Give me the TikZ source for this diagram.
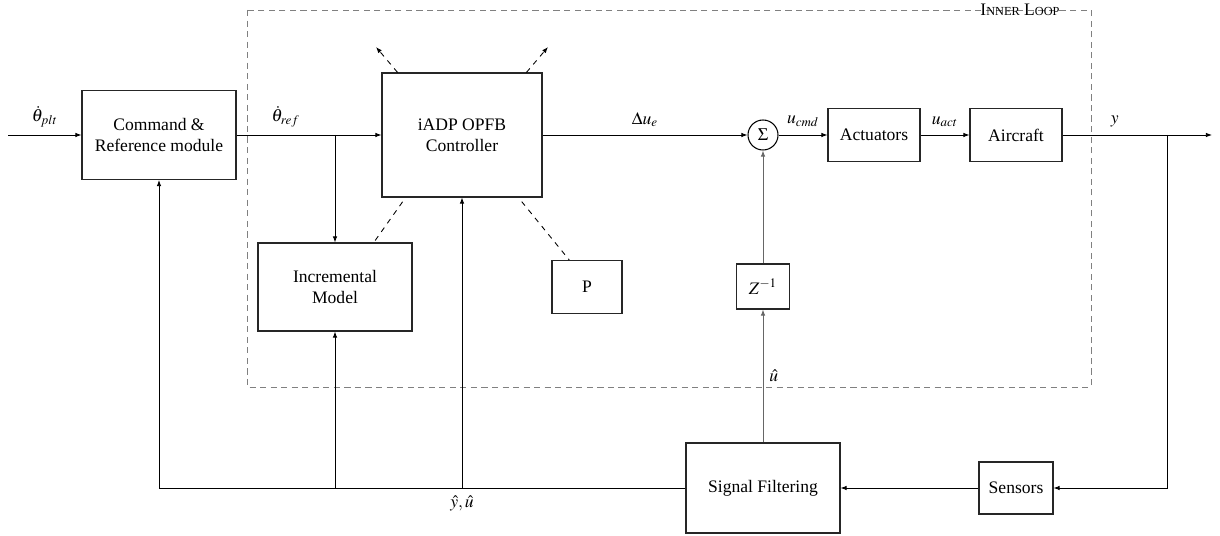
\documentclass[tikz,border=0pt]{standalone}
\usepackage{mathptmx}
\usepackage{fontspec}
\setmainfont{Liberation Serif}
\usetikzlibrary{calc, arrows.meta, positioning}

\begin{document}
\begin{tikzpicture}[x=0.02cm, y=-0.02cm,
    block/.style={draw=black!85, line width=0.6pt, align=center, inner sep=2pt},
    sig/.style={-{Latex[length=3.5pt,width=2.6pt]}, line width=0.5pt},
    lbl/.style={above=1pt}]
    \useasboundingbox (0,0) rectangle (1220,536);
    % Inner loop boundary
    \draw[black!50, line width=0.5pt, dash pattern=on 3.5pt off 2.5pt] (247,10) rectangle (1091,387);
    \node (loop) at (1020,10) {I{\scriptsize NNER} L{\scriptsize OOP}};
    % Blocks
    \node[block, minimum width=3.08cm, minimum height=1.78cm] (cmd) at (159,135) {Command \&\\Reference module};
    \node[block, minimum width=3.2cm, minimum height=2.48cm] (ctrl) at (462,135) {iADP OPFB\\Controller};
    \node[block, minimum width=3.08cm, minimum height=1.76cm] (incr) at (335,287) {Incremental\\Model};
    \node[block, minimum width=1.4cm, minimum height=1.06cm] (pmat) at (587,287) {P};
    \node[draw, circle, line width=0.6pt, minimum size=0.6cm, inner sep=0pt] (sum) at (763,135) {$\Sigma$};
    \node[block, minimum width=1.84cm, minimum height=1.06cm] (act) at (874,135) {Actuators};
    \node[block, minimum width=1.84cm, minimum height=1.06cm] (plant) at (1016,135) {Aircraft};
    \node[block, minimum width=1.06cm, minimum height=0.9cm] (zinv) at (763,286.5) {$Z^{-1}$};
    \node[block, minimum width=3.08cm, minimum height=1.8cm] (filt) at (763,488) {Signal Filtering};
    \node[block, minimum width=1.48cm, minimum height=1.04cm] (sens) at (1016,488) {Sensors};
    % Free ends and branch points
    \coordinate (in) at (8,135);
    \coordinate (refsplit) at (335,135);
    \coordinate (ysplit) at (1167,135);
    \coordinate (out) at (1212,135);
    \coordinate (adaptl) at (376,47);
    \coordinate (adaptr) at (548,47);
    % Forward path
    \draw[sig] (in) -- node[lbl] {$\dot{\theta}_{plt}$} (cmd);
    \draw[line width=0.5pt] (cmd) -- node[lbl] {$\dot{\theta}_{ref}$} (refsplit);
    \draw[sig] (refsplit) -- (ctrl);
    \draw[sig] (refsplit) -- (incr);
    \draw[sig] (ctrl) -- node[lbl] {$\Delta u_e$} (sum);
    \draw[sig] (sum) -- node[lbl] {$u_{cmd}$} (act);
    \draw[sig] (act) -- node[lbl] {$u_{act}$} (plant);
    \draw[line width=0.5pt] (plant) -- node[lbl] {$y$} (ysplit);
    \draw[sig] (ysplit) -- (out);
    % Measurement path
    \draw[sig] (ysplit) |- (sens);
    \draw[sig] (sens) -- (filt);
    \draw[sig, black!60] (filt) -- node[pos=0.5, right, black] {$\hat{u}$} (zinv);
    \draw[sig, black!60] (zinv) -- (sum);
    % Feedback bus
    \draw[sig] (filt.west) -| (cmd.south);
    \draw[sig] (incr.south |- filt.west) -- (incr.south);
    \draw[sig] (ctrl.south |- filt.west) -- node[pos=0, below=1pt] {$\hat{y}, \hat{u}$} (ctrl.south);
    % Adaptation links
    \draw[dashed, line width=0.5pt, shorten <=3pt] ($(ctrl.south west)!0.15!(ctrl.south east)$) -- ($(incr.north west)!0.75!(incr.north east)$);
    \draw[dashed, line width=0.5pt, shorten <=3pt] ($(ctrl.south west)!0.85!(ctrl.south east)$) -- ($(pmat.north west)!0.25!(pmat.north east)$);
    \draw[sig, dashed] ($(ctrl.north west)!0.1!(ctrl.north east)$) -- (adaptl);
    \draw[sig, dashed] ($(ctrl.north west)!0.9!(ctrl.north east)$) -- (adaptr);
\end{tikzpicture}
\end{document}
